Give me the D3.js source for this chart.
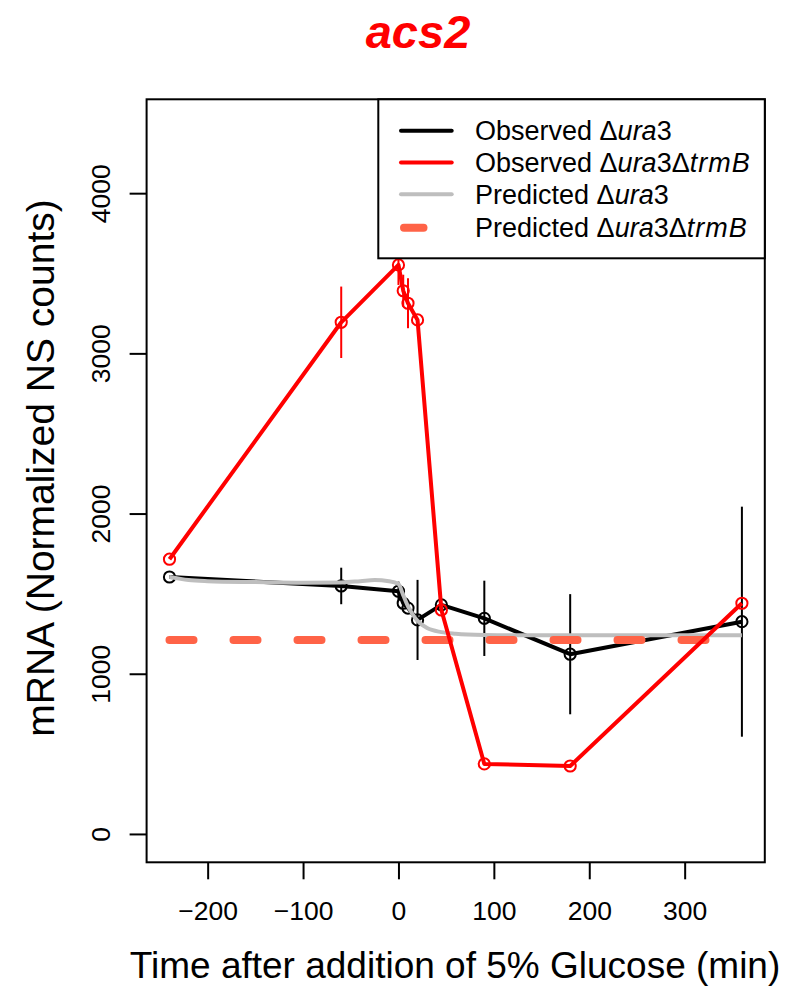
<!DOCTYPE html>
<html>
<head>
<meta charset="utf-8">
<script src="https://cdn.jsdelivr.net/npm/d3@7"></script>
<style>
  body { margin: 0; background: #fff; }
  svg { display: block; }
  text { font-family: "Liberation Sans", Arial, Helvetica, sans-serif; }
</style>
</head>
<body>
<svg id="chart" width="797" height="989"></svg>
<script>
// ---- data ----
const title = "acs2";
const times = [-240, -60, 0, 5, 10, 20, 45, 90, 180, 360];
const obsUra3 = [1604, 1548, 1515, 1440, 1410, 1336, 1430, 1346, 1122, 1325];
const obsUra3Err = [0, 114, 60, 0, 0, 250, 0, 235, 375, 718];
const obsTrmB = [1715, 3194, 3552, 3391, 3313, 3209, 1398, 437, 424, 1440];
const obsTrmBErr = [0, 223, 125, 100, 156, 0, 0, 0, 0, 0];
const predTimes = [-240, -220, -200, -150, -100, -60, -40, -25, -10, 0, 5, 10, 15, 20, 30, 45, 60, 90, 120, 180, 240, 300, 360];
const predUra3 = [1605, 1585, 1578, 1572, 1568, 1570, 1578, 1585, 1578, 1560, 1490, 1420, 1370, 1330, 1285, 1260, 1250, 1242, 1240, 1240, 1240, 1240, 1240];
const predTrmBTimes = [-240, 360];
const predTrmB = [1211, 1211];
const xTicks = [-200, -100, 0, 100, 200, 300];
const yTicks = [0, 1000, 2000, 3000, 4000];
const legendLabels = [
  ["Observed ", "Δ", "ura", "3", "", ""],
  ["Observed ", "Δ", "ura", "3", "Δ", "trmB"],
  ["Predicted ", "Δ", "ura", "3", "", ""],
  ["Predicted ", "Δ", "ura", "3", "Δ", "trmB"]
];
const xLabel = "Time after addition of 5% Glucose (min)";
const yLabel = "mRNA (Normalized NS counts)";

// ---- layout ----
const svg = d3.select("#chart");
const L = 146.6, R = 764.8, T = 99.3, B = 862.3;
const x = d3.scaleLinear().domain([-264, 384]).range([L, R]);
const y = d3.scaleLinear().domain([-177, 4586]).range([B, T]);

// title
svg.append("text").attr("x", 418).attr("y", 48).attr("text-anchor", "middle")
  .attr("font-size", 47).attr("font-weight", "bold").attr("font-style", "italic")
  .attr("fill", "#ff0000").text(title);

// axes
const xAxis = d3.axisBottom(x).tickValues(xTicks).tickSize(17).tickPadding(22)
  .tickFormat(d => d < 0 ? "\u2212" + Math.abs(d) : d);
const gx = svg.append("g").attr("transform", `translate(0,${B})`).call(xAxis);
gx.select(".domain").remove();
gx.selectAll("line").attr("stroke", "#000").attr("stroke-width", 2);
gx.selectAll("text").attr("font-size", 26.5).attr("fill", "#000")
  .attr("font-family", "'Liberation Sans', Arial, sans-serif");

const yAxis = d3.axisLeft(y).tickValues(yTicks).tickSize(17).tickPadding(0).tickFormat(d3.format("d"));
const gy = svg.append("g").attr("transform", `translate(${L},0)`).call(yAxis);
gy.select(".domain").remove();
gy.selectAll("line").attr("stroke", "#000").attr("stroke-width", 2);
gy.selectAll("text").attr("font-size", 26.5).attr("fill", "#000")
  .attr("font-family", "'Liberation Sans', Arial, sans-serif")
  .attr("text-anchor", "middle").attr("dy", null)
  .attr("transform", "translate(-46,0) rotate(-90)")
  .attr("x", 0).attr("y", 9.5);

// axis labels
svg.append("text").attr("x", 455).attr("y", 978).attr("text-anchor", "middle")
  .attr("font-size", 37).attr("fill", "#000").text(xLabel);
svg.append("text").attr("transform", `translate(54,468) rotate(-90)`)
  .attr("text-anchor", "middle").attr("font-size", 39).attr("fill", "#000").text(yLabel);

// data layers
const lineGen = d3.line().x(d => x(d[0])).y(d => y(d[1]));
const obsU = times.map((t, i) => [t, obsUra3[i], obsUra3Err[i]]);
const obsT = times.map((t, i) => [t, obsTrmB[i], obsTrmBErr[i]]);

function drawObs(data, color) {
  const g = svg.append("g");
  g.append("path").datum(data).attr("d", lineGen).attr("fill", "none")
    .attr("stroke", color).attr("stroke-width", 4).attr("stroke-linejoin", "round");
  g.selectAll("line.err").data(data.filter(d => d[2] > 0)).enter().append("line")
    .attr("x1", d => x(d[0])).attr("x2", d => x(d[0]))
    .attr("y1", d => y(d[1] - d[2])).attr("y2", d => y(d[1] + d[2]))
    .attr("stroke", color).attr("stroke-width", 2);
  g.selectAll("circle").data(data).enter().append("circle")
    .attr("cx", d => x(d[0])).attr("cy", d => y(d[1])).attr("r", 5.6)
    .attr("fill", "none").attr("stroke", color).attr("stroke-width", 2);
}

drawObs(obsU, "#000000");

// predicted ura3 (smooth)
svg.append("path").datum(predTimes.map((t, i) => [t, predUra3[i]]))
  .attr("d", d3.line().x(d => x(d[0])).y(d => y(d[1])).curve(d3.curveMonotoneX))
  .attr("fill", "none").attr("stroke", "#bebebe").attr("stroke-width", 4);

// predicted trmB (dashed)
svg.append("path").datum(predTrmBTimes.map((t, i) => [t, predTrmB[i]]))
  .attr("d", lineGen).attr("fill", "none").attr("stroke", "#ff6347")
  .attr("stroke-width", 8).attr("stroke-linecap", "round").attr("stroke-dasharray", "24 40");

drawObs(obsT, "#ff0000");

// frame
svg.append("rect").attr("x", L).attr("y", T).attr("width", R - L).attr("height", B - T)
  .attr("fill", "none").attr("stroke", "#000").attr("stroke-width", 2);

// legend
const lg = svg.append("g");
lg.append("rect").attr("x", 378.3).attr("y", T).attr("width", R - 378.3).attr("height", 258.3 - T)
  .attr("fill", "#fff").attr("stroke", "#000").attr("stroke-width", 2);
const legStyles = [
  { c: "#000000", w: 4, dash: null },
  { c: "#ff0000", w: 4, dash: null },
  { c: "#bebebe", w: 4, dash: null },
  { c: "#ff6347", w: 8, dash: "dash" }
];
const rowY = [130.7, 162.5, 194.3, 227.7];
legendLabels.forEach((lab, i) => {
  const st = legStyles[i];
  if (st.dash) {
    lg.append("line").attr("x1", 404).attr("x2", 423.5).attr("y1", rowY[i]).attr("y2", rowY[i])
      .attr("stroke", st.c).attr("stroke-width", st.w).attr("stroke-linecap", "round");
  } else {
    lg.append("line").attr("x1", 401).attr("x2", 451.7).attr("y1", rowY[i]).attr("y2", rowY[i])
      .attr("stroke", st.c).attr("stroke-width", st.w).attr("stroke-linecap", "round");
  }
  const t = lg.append("text").attr("x", 475).attr("y", rowY[i] + 9.5)
    .attr("font-size", 27).attr("fill", "#000");
  t.append("tspan").text(lab[0]);
  t.append("tspan").text(lab[1]);
  t.append("tspan").attr("font-style", "italic").text(lab[2]);
  t.append("tspan").text(lab[3]);
  if (lab[4]) {
    t.append("tspan").text(lab[4]);
    t.append("tspan").attr("font-style", "italic").attr("letter-spacing", 1).text(lab[5]);
  }
});
</script>
</body>
</html>
